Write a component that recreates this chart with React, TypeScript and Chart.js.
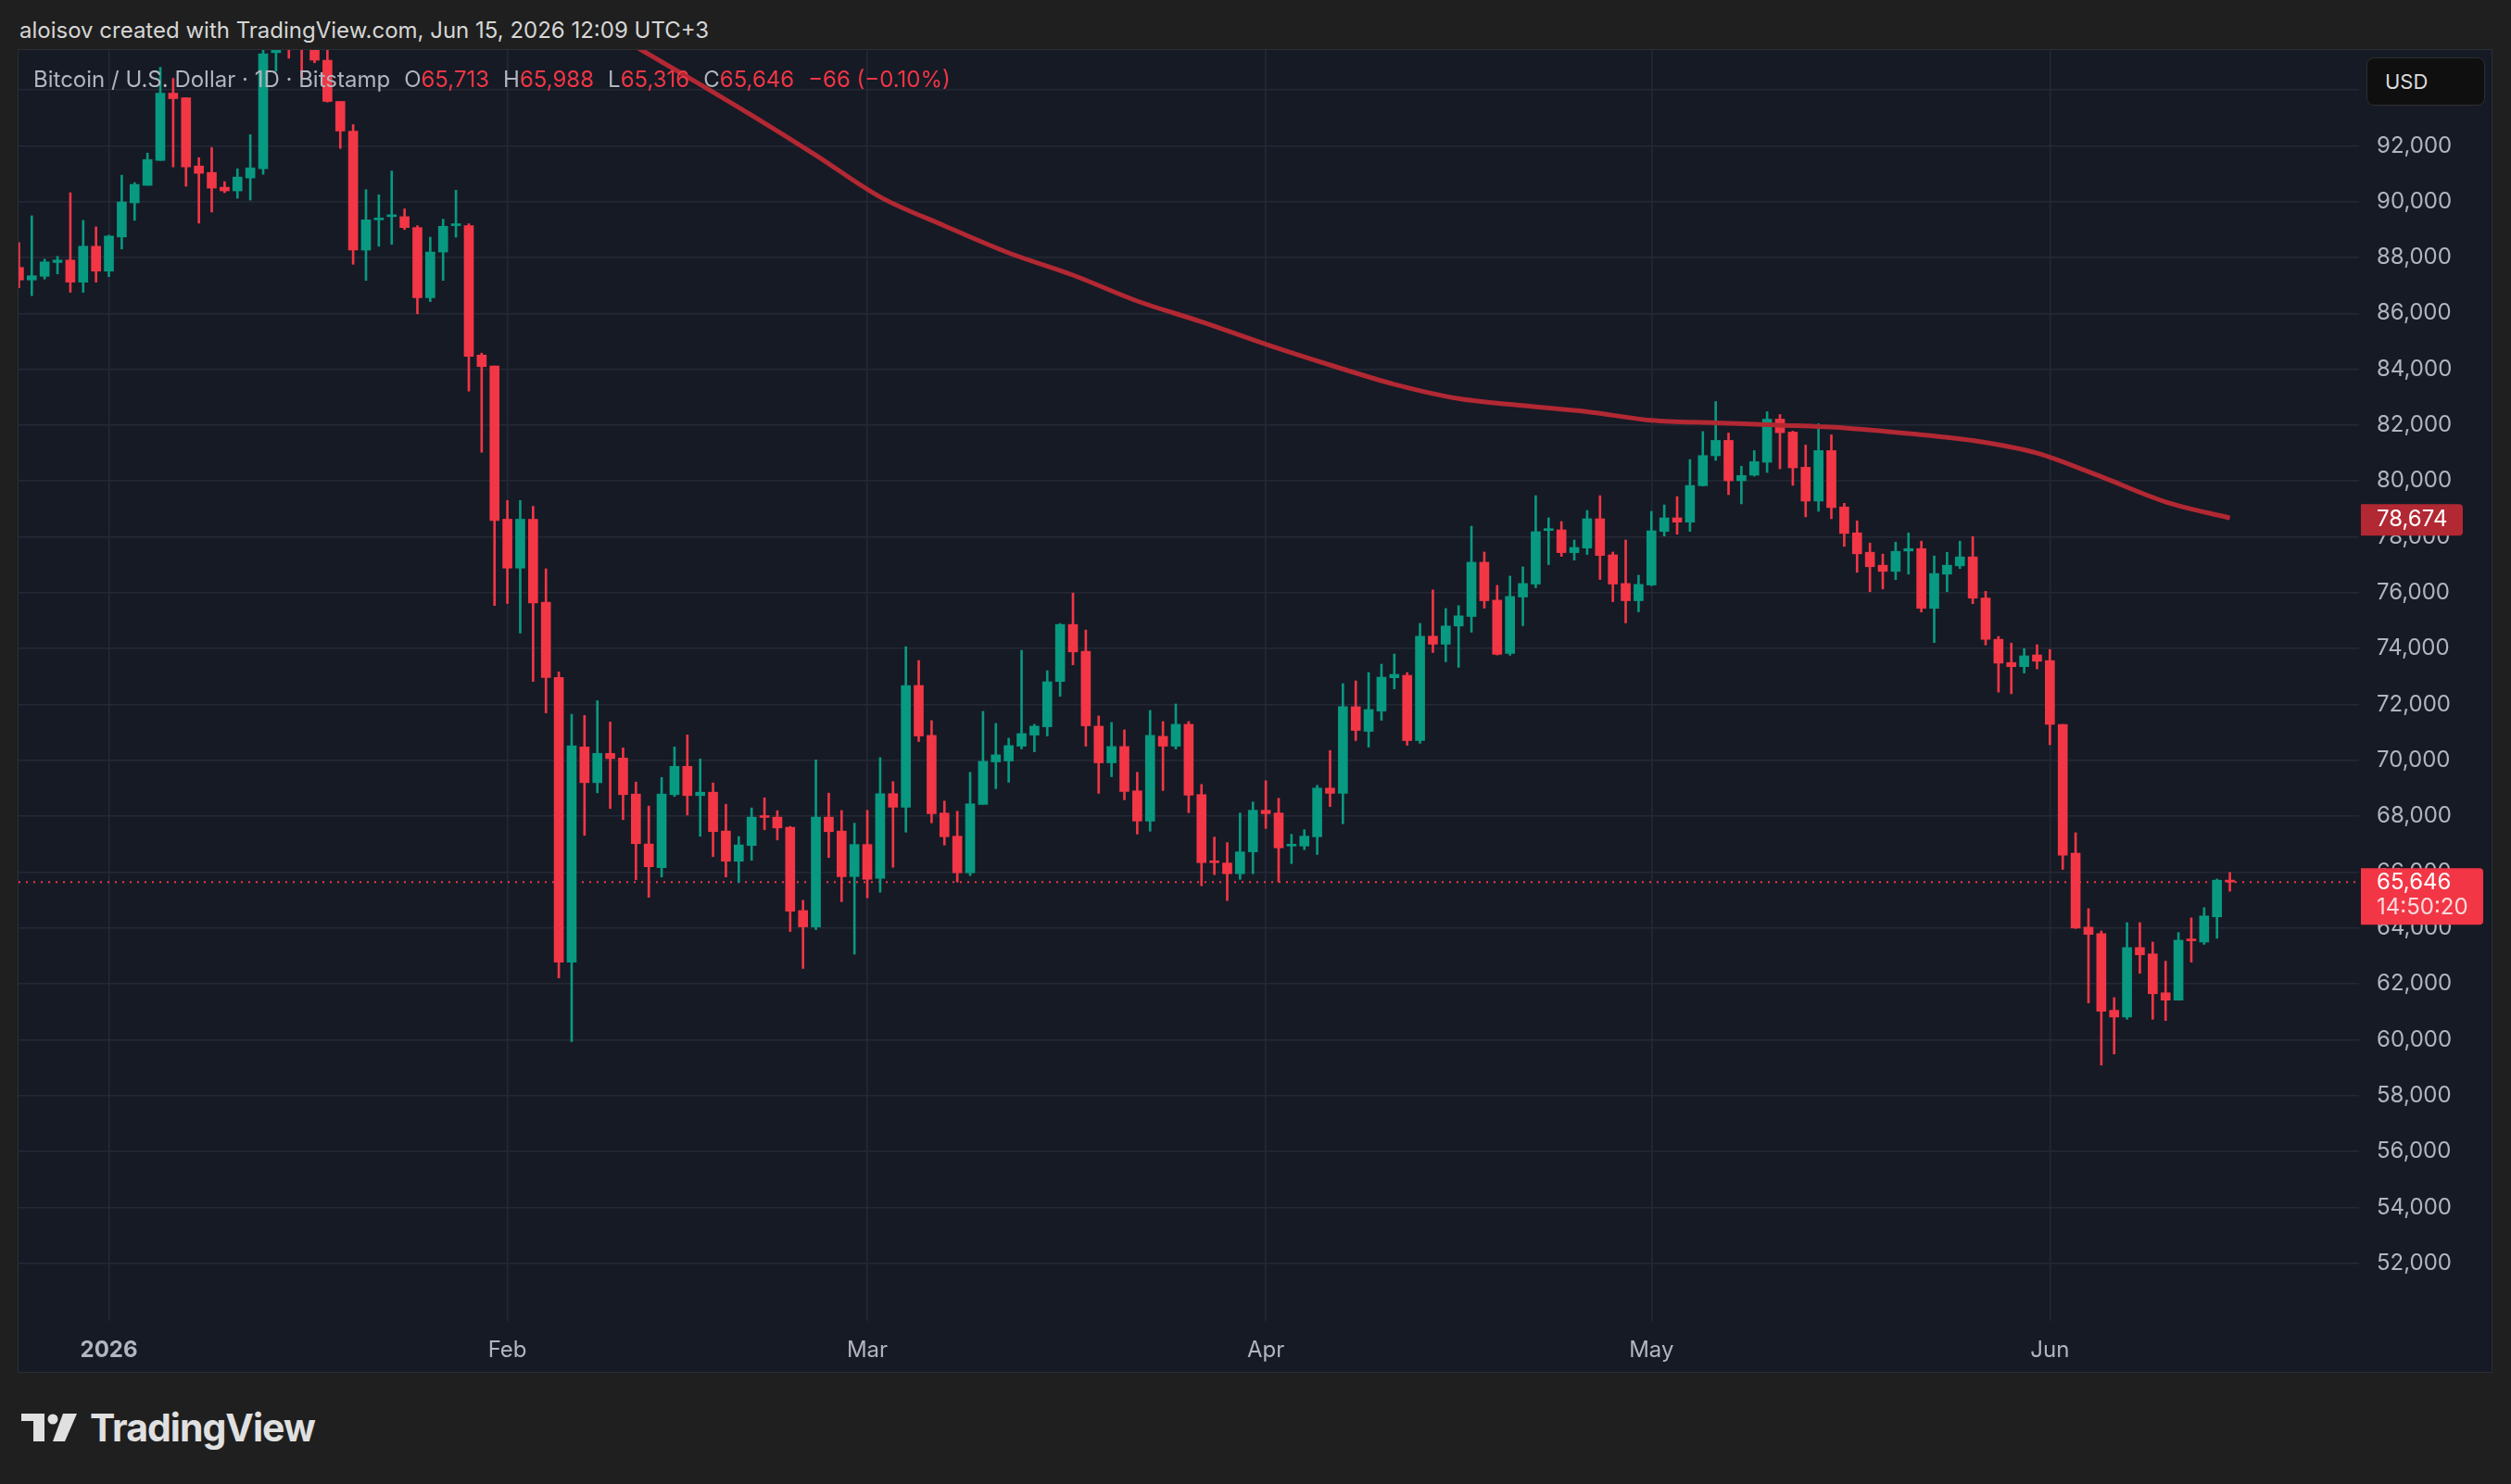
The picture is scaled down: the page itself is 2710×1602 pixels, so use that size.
import React, { useEffect, useRef } from 'react';
import { Chart, registerables } from 'chart.js';

Chart.register(...registerables);

// ---------- data ----------
// candle index 0 = 2025-12-25 (day -7 relative to 2026-01-01)
const FIRST_DAY = -7;

const opens = [
  87644, 87193, 87325, 87820, 87908, 87116, 88403,
  87512, 88733, 89954, 90581, 91472, 93881, 93716, 91274, 91043, 90515, 90383, 90845, 91175, 95330,
  96800, 95900, 95550, 95060, 93585, 92525, 88263, 89346, 89461, 89461, 89070, 86558, 88194, 89139,
  89139, 84507, 84116, 78632, 76881, 78632, 75660, 72964, 62780, 70481, 69202, 70250, 70084, 68794,
  67007, 66158, 68772, 69786, 68739, 68860, 67470, 66389, 66952, 68000, 67967, 67603, 64624, 64040,
  67967, 67470, 65841, 66988, 65775, 68808, 68323, 72680, 70893, 68114, 67286, 65974, 68422, 69944,
  69976, 70507, 70904, 71202, 72823, 74864, 73904, 71224, 69911, 70496, 68908, 67827, 70860, 70507,
  71290, 68775, 66393, 66327, 65941, 66724, 68213, 68114, 66933, 66933, 67264, 69007, 68820, 71919,
  71037, 71765, 72956, 73044, 70706, 74444, 74157, 74808, 75150, 77092, 75735, 73827, 75845, 76309,
  78228, 78250, 77434, 77599, 78647, 77356, 76330, 75713, 76275, 78195, 78680, 78526, 79830, 80901,
  81452, 80007, 80206, 80669, 82213, 81750, 80492, 79279, 81088, 79070, 78143, 77448, 76985, 76764,
  77492, 77580, 75441, 76665, 76963, 77283, 75810, 74334, 73501, 73353, 73775, 73570, 71288, 66678,
  64031, 63803, 61053, 60813, 63301, 63073, 61680, 61418, 63598, 63495, 64397, 65713,
];
const highs = [
  88535, 89492, 87941, 88040, 90317, 89327, 89096,
  88799, 90944, 90680, 91736, 94805, 94409, 93716, 91571, 91934, 90713, 91175, 92396, 95900, 97600,
  97400, 96600, 95800, 95700, 93585, 92756, 90429, 90244, 91097, 89738, 89139, 88724, 89369, 90406,
  89208, 84576, 84116, 79300, 79300, 79093, 76858, 73170, 71645, 71607, 72136, 71375, 70448, 69224,
  68364, 69389, 70481, 70911, 70051, 69191, 68430, 67272, 68298, 68662, 68198, 67636, 64988, 70018,
  68827, 68205, 67750, 68213, 70099, 69238, 74070, 73574, 71423, 68544, 68180, 69570, 71753, 71323,
  70794, 73937, 71290, 73209, 74897, 75989, 74665, 71588, 71356, 71092, 69570, 71787, 71390, 72018,
  71390, 69139, 67253, 67055, 68114, 68511, 69272, 68643, 67352, 67518, 69106, 70352, 72746, 72845,
  73143, 73441, 73805, 73143, 74900, 76099, 75437, 75536, 78382, 77456, 76264, 76595, 76926, 79474,
  78680, 78548, 77886, 78945, 79474, 77456, 77886, 76628, 78912, 79143, 79441, 80765, 81770, 82842,
  81717, 80526, 81088, 82478, 82379, 81783, 81287, 82048, 81651, 79202, 78573, 77779, 77382, 77812,
  78143, 77845, 77316, 77448, 77845, 78011, 76050, 74437, 74197, 74003, 74140, 73969, 71288, 67409,
  64693, 63894, 61509, 64191, 64191, 63495, 62810, 63837, 64362, 64727, 65754, 65988,
];
const lows = [
  86918, 86632, 87226, 87413, 86753, 86753, 87116,
  87314, 88304, 89327, 90581, 91472, 91241, 90548, 89228, 89624, 90317, 90119, 90053, 90977, 94673,
  95130, 94440, 94968, 93560, 91903, 87756, 87180, 88401, 88470, 89000, 85982, 86420, 87180, 88724,
  83217, 81028, 75545, 75614, 74554, 72826, 71697, 62210, 59930, 67316, 68838, 68275, 67878, 65728,
  65099, 65827, 68706, 68044, 67283, 66555, 65827, 65628, 66422, 67514, 67150, 63874, 62551, 63941,
  66522, 64940, 63062, 65080, 65279, 66172, 67430, 70673, 67761, 66966, 65643, 65874, 68422, 68985,
  69216, 70408, 70308, 70871, 72294, 73419, 70507, 68819, 69415, 68588, 67363, 67463, 68919, 70408,
  68125, 65511, 65908, 64981, 65742, 65941, 67562, 65643, 66305, 66801, 66635, 68345, 67728, 70706,
  70474, 71434, 72559, 70540, 70610, 73860, 73529, 73330, 74588, 75448, 73770, 73761, 74819, 76176,
  77003, 77301, 77169, 77367, 76474, 75680, 74919, 75316, 76250, 78029, 78095, 78195, 79820, 80735,
  79511, 79180, 80173, 80305, 80437, 79842, 78717, 78915, 78650, 77658, 76731, 76036, 76135, 76467,
  76665, 75308, 74216, 76036, 76863, 75606, 74130, 72440, 72383, 73125, 73273, 70558, 66097, 63980,
  61315, 59091, 59490, 60734, 62377, 60734, 60688, 61418, 62776, 63415, 63632, 65316,
];
const closes = [
  87193, 87347, 87842, 87908, 87116, 88403, 87512,
  88766, 89987, 90614, 91505, 93881, 93683, 91241, 91010, 90482, 90383, 90878, 91208, 95290, 96900,
  95900, 95550, 95060, 93585, 92525, 88263, 89346, 89415, 89507, 89070, 86558, 88194, 89116, 89185,
  84461, 84093, 78586, 76881, 78632, 75637, 72964, 62780, 70520, 69202, 70250, 70062, 68772, 67018,
  66191, 68794, 69786, 68739, 68860, 67448, 66389, 66974, 67967, 67956, 67580, 64602, 64040, 67967,
  67448, 65835, 66988, 65742, 68808, 68323, 72680, 70871, 68091, 67264, 65974, 68444, 69966, 70198,
  70529, 70959, 71224, 72812, 74864, 73882, 71235, 69911, 70496, 68886, 67827, 70893, 70507, 71290,
  68753, 66338, 66338, 65941, 66724, 68213, 68091, 66867, 66988, 67286, 69007, 68820, 71919, 71070,
  71820, 72978, 73077, 70706, 74440, 74157, 74808, 75172, 77092, 75713, 73794, 75867, 76330, 78184,
  78283, 77434, 77621, 78647, 77334, 76309, 75713, 76297, 78217, 78680, 78526, 79838, 80910, 81452,
  80007, 80195, 80691, 82213, 81728, 80470, 79279, 81088, 79047, 78121, 77393, 76930, 76764, 77481,
  77580, 75441, 76687, 76985, 77283, 75805, 74330, 73478, 73353, 73741, 73547, 71288, 66610, 63997,
  63769, 61019, 60813, 63301, 63039, 61646, 61418, 63564, 63541, 64431, 65712, 65646,
];

// 200-day moving average (day offset from 2026-01-01, price)
const maDays = [38, 45, 50, 55, 60, 65, 70, 75, 80, 85, 90, 95, 100, 105, 110, 115, 120, 125, 130, 135, 140, 145, 150, 155, 160, 165];
const maValues = [96350, 94464, 93090, 91658, 90166, 89135, 88164, 87368, 86440, 85697, 84894, 84152, 83462, 82950, 82700, 82480, 82170, 82080, 82000, 81900, 81700, 81450, 81000, 80150, 79250, 78674];

const xTickDays = [0, 31, 59, 90, 120, 151];
const xTickLabels = ['2026', 'Feb', 'Mar', 'Apr', 'May', 'Jun'];
const yTickValues = [52000, 54000, 56000, 58000, 60000, 62000, 64000, 66000, 68000, 70000, 72000, 74000, 76000, 78000, 80000, 82000, 84000, 86000, 88000, 90000, 92000, 94000];
const yHiddenLabels = [94000];

const countdown = '14:50:20';

// ---------- style ----------
const GREEN = '#089981';
const RED = '#F23645';
const MA_COLOR = '#B22833';
const GRID = '#252936';
const TEXT = '#B2B5BE';
const PANEL_BG = '#161A25';
const OUTER_BG = '#1F1F1F';
const FONT = 'Inter, "Noto Sans", sans-serif';

const X_MIN = -7.03;
const X_MAX = 175.05;
const Y_MIN = 49934;
const Y_MAX = 95425;

const fmt = (v: number) => v.toLocaleString('en-US');

export default function App() {
  const canvasRef = useRef<HTMLCanvasElement | null>(null);

  useEffect(() => {
    const canvas = canvasRef.current;
    if (!canvas) return;
    const days = opens.map((_, i) => i + FIRST_DAY);
    const colors = opens.map((o, i) => (closes[i] >= o ? GREEN : RED));
    const lastClose = closes[closes.length - 1];
    const maLast = maValues[maValues.length - 1];

    const priceLabels = {
      id: 'priceLabels',
      beforeDatasetsDraw(chart: any) {
        const { ctx, chartArea, scales } = chart;
        const py = scales.y.getPixelForValue(lastClose);
        ctx.save();
        ctx.strokeStyle = RED;
        ctx.lineWidth = 2;
        ctx.setLineDash([2, 6]);
        ctx.beginPath();
        ctx.moveTo(chartArea.left, py);
        ctx.lineTo(chartArea.right, py);
        ctx.stroke();
        ctx.restore();
      },
      afterDraw(chart: any) {
        const { ctx, chartArea, scales } = chart;
        const x0 = chartArea.right + 2;
        const tx = chartArea.right + 19;
        ctx.save();
        ctx.font = `24px ${FONT}`;
        ctx.textBaseline = 'middle';
        ctx.textAlign = 'left';
        // MA label
        const my = scales.y.getPixelForValue(maLast);
        ctx.fillStyle = MA_COLOR;
        ctx.beginPath();
        ctx.roundRect(x0, my - 15, 110, 34, [0, 4, 4, 0]);
        ctx.fill();
        ctx.fillStyle = '#FFFFFF';
        ctx.fillText(fmt(maLast), tx, my + 2);
        // last price label
        const py = scales.y.getPixelForValue(lastClose);
        ctx.fillStyle = RED;
        ctx.beginPath();
        ctx.roundRect(x0, py - 15, 132, 61, [0, 4, 4, 0]);
        ctx.fill();
        ctx.fillStyle = '#FFFFFF';
        ctx.fillText(fmt(lastClose), tx, py + 1);
        ctx.fillStyle = 'rgba(255,255,255,0.82)';
        ctx.fillText(countdown, tx, py + 28);
        ctx.restore();
      },
    };

    const chart = new Chart(canvas, {
      type: 'bar',
      data: {
        datasets: [
          {
            type: 'line',
            label: 'MA',
            data: maDays.map((d, i) => ({ x: d, y: maValues[i] })),
            borderColor: MA_COLOR,
            borderWidth: 5,
            pointRadius: 0,
            cubicInterpolationMode: 'monotone',
            fill: false,
            order: 0,
            clip: 0,
          } as any,
          {
            label: 'bodies',
            data: days.map((d, i) => ({ x: d, y: [opens[i], closes[i]] })),
            backgroundColor: colors,
            borderWidth: 0,
            barThickness: 10,
            minBarLength: 2,
            grouped: false,
            order: 1,
            clip: 0,
          } as any,
          {
            label: 'wicks',
            data: days.map((d, i) => ({ x: d, y: [lows[i], highs[i]] })),
            backgroundColor: colors,
            borderWidth: 0,
            barThickness: 2,
            grouped: false,
            order: 2,
            clip: 0,
          } as any,
        ],
      },
      options: {
        animation: false,
        responsive: false,
        devicePixelRatio: 1,
        layout: { padding: 0 },
        plugins: { legend: { display: false }, tooltip: { enabled: false } },
        scales: {
          x: {
            type: 'linear',
            min: X_MIN,
            max: X_MAX,
            offset: false,
            grid: { color: GRID, lineWidth: 1.5, drawTicks: false, offset: false },
            border: { display: false },
            afterBuildTicks: (s: any) => {
              s.ticks = xTickDays.map((v) => ({ value: v }));
            },
            afterFit: (s: any) => {
              s.height = 55;
              s.paddingLeft = 0;
              s.paddingRight = 0;
            },
            ticks: {
              autoSkip: false,
              maxRotation: 0,
              padding: 17,
              color: TEXT,
              font: (c: any) => ({ family: FONT, size: 24, weight: c.index === 0 ? 'bold' : 'normal' }),
              callback: (_v: any, i: number) => xTickLabels[i],
            },
          },
          y: {
            type: 'linear',
            position: 'right',
            min: Y_MIN,
            max: Y_MAX,
            beginAtZero: false,
            grid: { color: GRID, lineWidth: 1.5, drawTicks: false },
            border: { display: false },
            afterBuildTicks: (s: any) => {
              s.ticks = yTickValues.map((v) => ({ value: v }));
            },
            afterFit: (s: any) => {
              s.width = 143;
              s.paddingTop = 0;
              s.paddingBottom = 0;
            },
            ticks: {
              autoSkip: false,
              padding: 19,
              color: TEXT,
              font: { family: FONT, size: 24 },
              callback: (v: any) => (yHiddenLabels.includes(v) ? '' : fmt(v)),
            },
          },
        },
      } as any,
      plugins: [priceLabels],
    });
    return () => chart.destroy();
  }, []);

  const grey = { color: TEXT };
  const red = { color: RED };
  const last = opens.length - 1;
  const change = closes[last] - closes[last - 1];
  const pct = (change / closes[last - 1]) * 100;
  const minus = (v: number) => (v < 0 ? '\u2212' : '+');

  return (
    <div style={{ position: 'absolute', left: 0, top: 0, width: 2710, height: 1602, background: OUTER_BG, overflow: 'hidden', fontFamily: FONT }}>
      <div style={{ position: 'absolute', left: 21, top: 19, height: 28, lineHeight: '28px', fontSize: 24, color: '#D6D6D6', whiteSpace: 'nowrap' }}>
        aloisov created with TradingView.com, Jun 15, 2026 12:09 UTC+3
      </div>
      <div style={{ position: 'absolute', left: 19, top: 53, width: 2671, height: 1429, boxSizing: 'border-box', border: '1px solid #2B2E37', background: PANEL_BG }}>
        <canvas ref={canvasRef} width={2669} height={1427} style={{ display: 'block', width: 2669, height: 1427 }} />
        <div style={{ position: 'absolute', left: 16, top: 18, height: 28, lineHeight: '28px', fontSize: 24, whiteSpace: 'nowrap', display: 'flex' }}>
          <span style={grey}>Bitcoin / U.S. Dollar · 1D · Bitstamp</span>
          <span style={{ marginLeft: 15 }}><span style={grey}>O</span><span style={red}>{fmt(opens[last])}</span></span>
          <span style={{ marginLeft: 15 }}><span style={grey}>H</span><span style={red}>{fmt(highs[last])}</span></span>
          <span style={{ marginLeft: 15 }}><span style={grey}>L</span><span style={red}>{fmt(lows[last])}</span></span>
          <span style={{ marginLeft: 15 }}><span style={grey}>C</span><span style={red}>{fmt(closes[last])}</span></span>
          <span style={{ marginLeft: 15, ...red }}>{`${minus(change)}${Math.abs(change)} (${minus(change)}${Math.abs(pct).toFixed(2)}%)`}</span>
        </div>
        <div style={{ position: 'absolute', left: 2534, top: 8, width: 128, height: 52, boxSizing: 'border-box', border: '1px solid #2E2E2E', borderRadius: 8, background: '#0F0F0F', color: '#DBDBDB', fontSize: 22, lineHeight: '50px', paddingLeft: 19 }}>
          USD
        </div>
      </div>
      <svg style={{ position: 'absolute', left: 23, top: 1526 }} width={62} height={32} viewBox="0 0 62 32">
        <rect x={0} y={0} width={25} height={8} fill="#E0E0E0" />
        <rect x={13} y={0} width={12} height={30} fill="#E0E0E0" />
        <circle cx={34} cy={6} r={5.5} fill="#E0E0E0" />
        <polygon points="45,0 60,0 47,30 34,30" fill="#E0E0E0" />
      </svg>
      <div style={{ position: 'absolute', left: 97, top: 1517, height: 48, lineHeight: '48px', fontSize: 41, fontWeight: 700, color: '#E0E0E0', letterSpacing: -1, whiteSpace: 'nowrap' }}>
        TradingView
      </div>
    </div>
  );
}
